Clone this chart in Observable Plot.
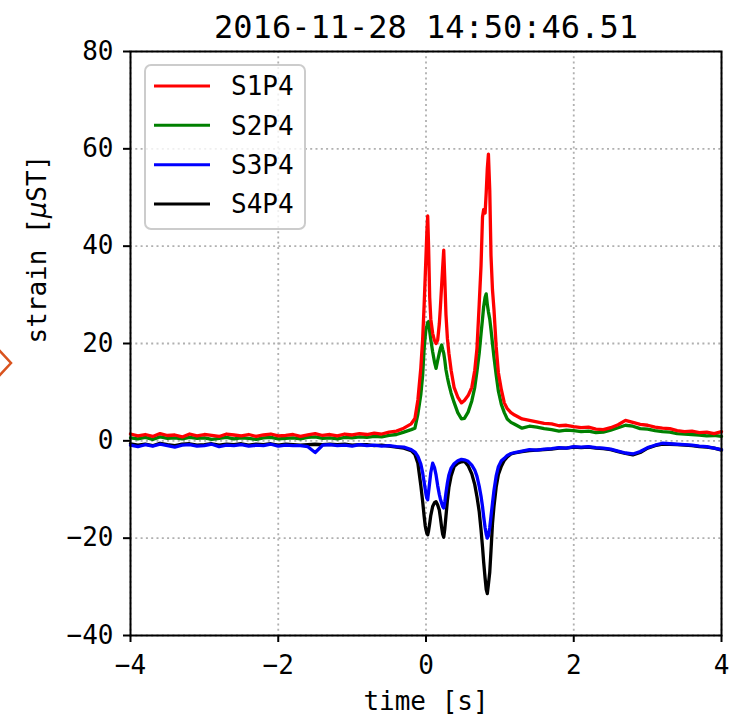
<!DOCTYPE html>
<html>
<head>
<meta charset="utf-8">
<script src="https://cdn.jsdelivr.net/npm/d3@7"></script>
<script src="https://cdn.jsdelivr.net/npm/@observablehq/plot@0.6"></script>
<style>
  html, body { margin: 0; padding: 0; background: white; }
  #wrap { position: relative; width: 735px; height: 717px; }
  #legend { position: absolute; left: 144px; top: 64px; }
  #marker { position: absolute; left: 0; top: 340px; }
</style>
</head>
<body>
<div id="wrap"></div>
<script>
const title = "2016-11-28 14:50:46.51";
const xLabel = "time [s]";
const yLabel = "strain [μST]";
const series = ["S1P4", "S2P4", "S3P4", "S4P4"];
const colors = ["#ff0000", "#008000", "#0000ff", "#000000"];
const xTicks = [-4, -2, 0, 2, 4];
const yTicks = [-40, -20, 0, 20, 40, 60, 80];

const time = [
  -4.0,-3.9,-3.8,-3.7,-3.6,-3.5,-3.4,-3.3,-3.2,-3.1,-3.0,-2.9,-2.8,-2.7,-2.6,-2.5,-2.4,-2.3,-2.2,-2.1,
  -2.0,-1.9,-1.8,-1.7,-1.6,-1.5,-1.4,-1.3,-1.2,-1.1,-1.0,-0.9,-0.8,-0.7,-0.6,-0.5,-0.4,
  -0.3,-0.2,-0.15,-0.11,-0.07,-0.045,-0.025,-0.01,0,0.012,0.023,0.035,0.05,0.065,0.09,0.115,0.136,0.158,0.18,0.195,
  0.212,0.226,0.24,0.255,0.27,0.29,0.31,0.34,0.38,0.43,0.48,0.52,0.57,0.62,0.66,0.69,0.72,0.745,0.765,0.78,
  0.8,0.815,0.83,0.845,0.863,0.88,0.9,0.92,0.95,0.98,1.02,1.06,1.1,1.15,1.2,1.3,
  1.4,1.5,1.6,1.7,1.8,1.9,2.0,2.1,2.2,2.3,2.4,2.5,2.6,2.7,2.8,2.9,3.0,3.1,3.2,3.3,3.4,3.5,3.6,3.7,3.8,3.9,4.0
];

const s1 = [
  1.4,1.0,1.3,0.9,1.5,1.1,1.2,0.8,1.4,1.0,1.3,1.1,0.9,1.4,1.2,1.0,1.3,0.9,1.2,1.4,
  1.0,1.1,1.3,0.9,1.2,1.5,1.1,1.3,1.0,1.4,1.2,1.5,1.3,1.6,1.4,1.8,2.0,
  2.6,3.5,4.6,8.4,15,21,28,34,38,43,46.2,40,29.5,25,22.1,20.6,20.0,20.7,24,27.5,
  32,35.7,39.2,33,26,21,18,14.5,11,9,7.8,8.3,9.3,11,14.5,19,28,36,46,47.5,
  46.8,51,56,58.9,51.5,38,31,27,19.3,14,10.5,7.8,6.6,5.8,5.3,4.5,
  4.2,3.9,3.6,3.5,3.1,3.2,2.9,2.7,2.8,2.4,2.3,2.7,3.3,4.2,3.8,3.4,3.2,2.8,2.6,2.5,2.1,1.9,2.0,1.7,1.8,1.5,1.9
];

const s2 = [
  0.6,0.4,0.7,0.3,0.8,0.5,0.6,0.4,0.7,0.5,0.6,0.3,0.5,0.7,0.4,0.6,0.5,0.3,0.6,0.7,
  0.4,0.5,0.6,0.4,0.7,0.8,0.5,0.6,0.4,0.7,0.6,0.8,0.7,0.9,0.8,1.1,1.3,
  1.8,2.3,2.6,5.5,9.5,13.5,19,21.5,23,23.6,24.3,24.5,22.5,20.8,18.3,16.2,14.9,16.5,18,19,
  19.7,18.8,18,16.5,14.6,13,11.6,9.8,7.9,5.8,4.5,4.6,5.9,8.2,11,14.3,18,22,25,27.5,
  29.5,30.2,28,26.5,25,22.8,20,17.2,13.5,10.2,7.5,5.8,4.5,3.8,3.4,2.6,
  3.0,2.8,2.5,2.3,2.0,2.2,2.1,1.9,2.0,1.7,1.8,2.2,2.7,3.2,3.0,2.5,2.4,2.1,1.9,1.8,1.5,1.4,1.3,1.2,1.0,1.1,0.9
];

const s3 = [
  -0.9,-1.2,-0.8,-1.1,-0.7,-1.0,-1.3,-0.9,-0.8,-1.1,-1.0,-0.7,-1.2,-0.9,-1.0,-0.8,-1.1,-0.9,-1.0,-0.7,
  -1.1,-0.9,-1.0,-1.0,-1.2,-2.4,-0.9,-0.8,-1.0,-0.9,-1.1,-0.8,-1.0,-0.9,-1.1,-1.0,-1.2,
  -1.3,-1.8,-2.3,-3.2,-4.8,-6.6,-8.5,-10,-11,-11.8,-12.1,-10.5,-8.5,-6.5,-4.6,-5.5,-7,-9.2,-11,-12,
  -12.8,-13.5,-13.8,-12.5,-10.7,-8.6,-7,-5.6,-4.7,-4.1,-3.8,-3.9,-4.2,-5,-6,-7.3,-9.3,-11.4,-13.5,-15.5,
  -17.8,-19.2,-20,-19.5,-17.8,-15.5,-12.8,-10.2,-7.2,-5.3,-4.1,-3.6,-3.0,-2.6,-2.4,-2.1,
  -1.8,-1.9,-1.7,-1.6,-1.4,-1.5,-1.2,-1.3,-1.2,-1.4,-1.5,-1.7,-2.1,-2.5,-2.7,-2.2,-1.4,-0.9,-0.5,-0.6,-0.7,-0.8,-0.9,-1.1,-1.2,-1.5,-1.8
];

const s4 = [
  -0.6,-0.9,-0.7,-1.0,-0.5,-0.8,-1.0,-0.7,-0.6,-0.9,-0.8,-0.6,-0.9,-0.7,-0.8,-0.6,-0.9,-0.7,-0.8,-0.6,
  -0.9,-0.7,-0.8,-0.9,-0.8,-0.7,-0.8,-0.7,-0.8,-0.7,-0.9,-0.8,-0.8,-1.0,-0.9,-1.1,-1.3,
  -1.5,-2,-2.8,-4.6,-9.2,-12.5,-15.5,-17.5,-18.3,-19,-19.3,-18.5,-17,-15.3,-13.5,-12.7,-12.5,-13.2,-14.2,-15.8,
  -17.8,-19.2,-19.8,-18,-15.5,-12.2,-9.6,-7.2,-5.3,-4.6,-4.3,-4.2,-5.1,-6.8,-9,-11.5,-14.5,-18.3,-21.8,-24.8,
  -28.2,-30.5,-31.4,-29.5,-27,-22.5,-17,-13.5,-9.5,-6.9,-5.2,-4,-3.3,-2.7,-2.5,-2.2,
  -2.0,-1.9,-1.8,-1.7,-1.5,-1.5,-1.3,-1.4,-1.3,-1.5,-1.6,-1.8,-2.2,-2.6,-2.9,-2.4,-1.5,-1.0,-0.7,-0.7,-0.8,-0.9,-1.0,-1.2,-1.3,-1.5,-1.9
];

const values = [s1, s2, s3, s4];
values.forEach((v, i) => { if (v.length !== time.length) console.error("length mismatch", series[i], v.length, time.length); });

// draw order: S4 first (bottom) ... S1 last (top)
const rows = [];
for (let k = series.length - 1; k >= 0; k--) {
  time.forEach((t, i) => rows.push({t, v: values[k][i], series: series[k]}));
}

const fmt = d => d < 0 ? "\u2212" + Math.abs(d) : String(d);
const gridStyle = {stroke: "#b0b0b0", strokeOpacity: 1, strokeDasharray: "2,3.3", strokeWidth: 1.8};

const chart = Plot.plot({
  width: 735,
  height: 717,
  marginLeft: 130,
  marginRight: 14,
  marginTop: 51,
  marginBottom: 82,
  style: {fontFamily: "'DejaVu Sans Mono', monospace", fontSize: "26px", color: "black", background: "white", overflow: "visible"},
  x: {domain: [-4, 4]},
  y: {domain: [-40, 80]},
  color: {domain: series, range: colors},
  marks: [
    Plot.gridX(xTicks, gridStyle),
    Plot.gridY(yTicks, gridStyle),
    Plot.line(rows, {x: "t", y: "v", z: "series", stroke: "series", strokeWidth: 3.3, strokeLinejoin: "round"}),
    Plot.frame({stroke: "black", strokeWidth: 2}),
    Plot.axisX(xTicks, {tickSize: 7, tickPadding: 13, tickFormat: fmt, strokeWidth: 2, label: null, fontSize: 26}),
    Plot.axisY(yTicks, {tickSize: 7, tickPadding: 10, tickFormat: fmt, strokeWidth: 2, label: null, fontSize: 26}),
    Plot.text([xLabel], {text: d => d, frameAnchor: "bottom", dy: 74, fontSize: 26}),
    Plot.text([yLabel], {text: d => d, frameAnchor: "left", dx: -93, rotate: -90, fontSize: 26}),
    Plot.text([title], {text: d => d, frameAnchor: "top", dy: -36, fontSize: 32})
  ]
});

// italic mu in the y label (mathtext style)
d3.select(chart).selectAll("text").each(function() {
  if (this.textContent === yLabel) {
    const el = d3.select(this);
    el.text(null);
    el.append("tspan").text("strain [");
    el.append("tspan").attr("font-family", "'DejaVu Sans'").attr("font-style", "italic").text("μ");
    el.append("tspan").text("ST]");
  }
});

const wrap = document.getElementById("wrap");
wrap.appendChild(chart);

// legend
const leg = d3.create("svg").attr("id", "legend").attr("width", 163).attr("height", 167)
  .style("font-family", "'DejaVu Sans Mono', monospace").style("font-size", "26px");
leg.append("rect").attr("x", 1).attr("y", 1).attr("width", 160).attr("height", 164).attr("rx", 6)
  .attr("fill", "white").attr("fill-opacity", 0.8).attr("stroke", "#cccccc").attr("stroke-width", 2);
const rowY = d3.scalePoint().domain(series).range([22, 140]);
series.forEach((s, i) => {
  leg.append("line").attr("x1", 10).attr("x2", 66).attr("y1", rowY(s)).attr("y2", rowY(s))
    .attr("stroke", colors[i]).attr("stroke-width", 3);
  leg.append("text").attr("x", 87).attr("y", rowY(s)).attr("dy", "0.36em").attr("fill", "black").text(s);
});
wrap.appendChild(leg.node());

// partial orange marker at the left edge
const mk = d3.create("svg").attr("id", "marker").attr("width", 20).attr("height", 50);
mk.append("path").attr("d", d3.line()([[-2, 9], [11, 23], [-2, 37]]))
  .attr("fill", "none").attr("stroke", "#d9531e").attr("stroke-width", 2.5);
wrap.appendChild(mk.node());
</script>
</body>
</html>
